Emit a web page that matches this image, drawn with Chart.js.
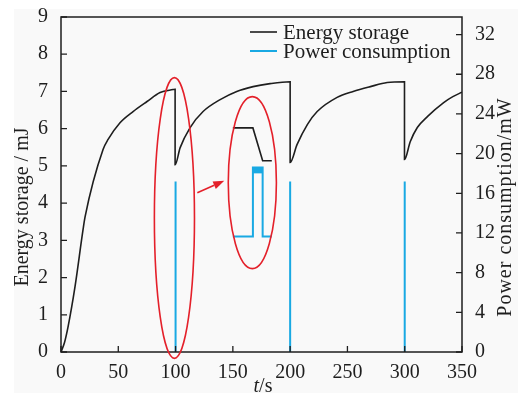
<!DOCTYPE html>
<html lang="en">
<head>
<meta charset="UTF-8">
<title>Energy storage and power consumption</title>
<script src="https://cdn.jsdelivr.net/npm/chart.js@4.4.1/dist/chart.umd.min.js"></script>
<style>
  html, body { margin: 0; padding: 0; background: #fff; }
  #wrap { width: 528px; height: 397px; }
</style>
</head>
<body>
<div id="wrap"><canvas id="energyChart" width="528" height="397"></canvas></div>
<script>
// energy storage curve (t in s, E in mJ)
const energyT = [0, 3, 6.1, 12.2, 19.2, 21.0, 36.7, 41.1, 51.5, 62.9, 75.1, 86.5, 97.8, 99.6,
  99.6, 104, 112.7, 124, 138.9, 153.4, 167.7, 182.5, 200,
  200, 206, 215, 223.6, 241, 255, 270, 284.7, 299.8,
  299.8, 304.8, 311, 320, 334, 342, 350];
const energyE = [0, 0.25, 0.67, 1.75, 3.28, 3.63, 5.44, 5.71, 6.16, 6.46, 6.73, 6.97, 7.05, 7.06,
  5.03, 5.49, 6.03, 6.46, 6.78, 7.0, 7.13, 7.21, 7.26,
  5.09, 5.57, 6.11, 6.46, 6.84, 7.0, 7.13, 7.24, 7.26,
  5.17, 5.65, 6.03, 6.33, 6.70, 6.86, 6.98];

// power consumption spikes (right axis, mW)
const spikeT = [100, 200, 300];
const spikeP = [17.2, 17.2, 17.2];

// zoomed view of one event, drawn on the left axis
const insetEnergyT = [150, 167.5, 176, 184];
const insetEnergyE = [6.02, 6.02, 5.14, 5.14];
const insetPowerT = [150, 167.5, 167.5, 176, 176, 184];
const insetPowerV = [3.1, 3.1, 4.96, 4.96, 3.1, 3.1];
const insetPeakT = [167.5, 176];
const insetPeakV = [4.88, 4.88];

// red highlight ellipses: centre t, centre E, half width (s), half height (mJ)
const ellipseCx = [99, 167];
const ellipseCy = [3.6, 4.55];
const ellipseRx = [17.5, 21];
const ellipseRy = [3.77, 2.31];
// arrow between the two ellipses
const arrowT = [119, 142.5];
const arrowE = [4.28, 4.6];

const xTicks = [0, 50, 100, 150, 200, 250, 300, 350];
const leftTicks = [0, 1, 2, 3, 4, 5, 6, 7, 8, 9];
const rightTicks = [0, 4, 8, 12, 16, 20, 24, 28, 32];

const BLUE = '#19a9e3';
const RED = '#e4202a';
const INK = '#1e1e1e';
const SERIF = '"Liberation Serif", "Times New Roman", serif';

function pts(xs, ys) {
  return xs.map((x, i) => ({ x: x, y: ys[i] }));
}

// each spike is a separate vertical segment, split with nulls
const spikeData = [];
spikeT.forEach((t, i) => {
  spikeData.push({ x: t, y: 0 }, { x: t, y: spikeP[i] }, { x: t + 1, y: null });
});

const bgPlugin = {
  id: 'bg',
  beforeDraw(chart) {
    const ctx = chart.ctx;
    ctx.save();
    ctx.fillStyle = '#fff';
    ctx.fillRect(0, 0, chart.width, chart.height);
    ctx.fillStyle = '#f9f9f9';
    ctx.fillRect(14, 9, 504, 384);
    ctx.restore();
  }
};

const frameTicks = {
  id: 'frameTicks',
  afterDatasetsDraw(chart) {
    const { ctx, chartArea: a, scales } = chart;
    ctx.save();
    ctx.strokeStyle = INK;
    ctx.lineWidth = 1.5;
    ctx.strokeRect(a.left, a.top, a.right - a.left, a.bottom - a.top);
    ctx.lineWidth = 1.3;
    ctx.beginPath();
    xTicks.forEach(v => {
      const px = scales.x.getPixelForValue(v);
      ctx.moveTo(px, a.bottom); ctx.lineTo(px, a.bottom - 6);
    });
    leftTicks.forEach(v => {
      const py = scales.y.getPixelForValue(v);
      ctx.moveTo(a.left, py); ctx.lineTo(a.left + 6, py);
    });
    rightTicks.forEach(v => {
      const py = scales.y2.getPixelForValue(v);
      ctx.moveTo(a.right, py); ctx.lineTo(a.right - 6, py);
    });
    ctx.stroke();
    ctx.restore();
  }
};

const marks = {
  id: 'marks',
  afterDatasetsDraw(chart) {
    const { ctx, scales } = chart;
    const sx = scales.x, sy = scales.y;
    ctx.save();
    ctx.strokeStyle = RED;
    ctx.fillStyle = RED;
    ctx.lineWidth = 1.6;
    ellipseCx.forEach((cx, i) => {
      const px = sx.getPixelForValue(cx);
      const py = sy.getPixelForValue(ellipseCy[i]);
      const rx = sx.getPixelForValue(cx + ellipseRx[i]) - px;
      const ry = py - sy.getPixelForValue(ellipseCy[i] + ellipseRy[i]);
      ctx.beginPath();
      ctx.ellipse(px, py, rx, ry, 0, 0, Math.PI * 2);
      ctx.stroke();
    });
    // arrow
    const x0 = sx.getPixelForValue(arrowT[0]), y0 = sy.getPixelForValue(arrowE[0]);
    const x1 = sx.getPixelForValue(arrowT[1]), y1 = sy.getPixelForValue(arrowE[1]);
    const ang = Math.atan2(y1 - y0, x1 - x0);
    const hl = 11, hw = 4;
    const bx = x1 - hl * Math.cos(ang), by = y1 - hl * Math.sin(ang);
    ctx.beginPath();
    ctx.moveTo(x0, y0); ctx.lineTo(bx, by);
    ctx.stroke();
    ctx.beginPath();
    ctx.moveTo(x1, y1);
    ctx.lineTo(bx + hw * Math.sin(ang), by - hw * Math.cos(ang));
    ctx.lineTo(bx - hw * Math.sin(ang), by + hw * Math.cos(ang));
    ctx.closePath();
    ctx.fill();
    ctx.restore();
  }
};

const legendAndTitles = {
  id: 'legendAndTitles',
  afterDraw(chart) {
    const ctx = chart.ctx;
    const ds = chart.data.datasets;
    ctx.save();
    // legend
    ctx.font = '21px ' + SERIF;
    ctx.textBaseline = 'middle';
    ctx.textAlign = 'left';
    ctx.fillStyle = INK;
    [[ds[0], 32], [ds[1], 51]].forEach(([d, y]) => {
      ctx.strokeStyle = d.borderColor;
      ctx.lineWidth = d.borderWidth;
      ctx.beginPath();
      ctx.moveTo(250, y); ctx.lineTo(277, y);
      ctx.stroke();
      ctx.fillText(d.label, 283, y + 1);
    });

    // left axis title
    ctx.font = '20px ' + SERIF;
    ctx.textBaseline = 'alphabetic';
    ctx.textAlign = 'center';
    ctx.save();
    ctx.translate(28, 207);
    ctx.rotate(-Math.PI / 2);
    ctx.fillText('Energy storage / mJ', 0, 0);
    ctx.restore();

    // right axis title
    ctx.save();
    ctx.translate(511, 207);
    ctx.rotate(-Math.PI / 2);
    ctx.letterSpacing = '1px';
    ctx.fillText('Power consumption/mW', 0, 0);
    ctx.restore();

    // x axis title, italic t
    ctx.textAlign = 'left';
    ctx.font = 'italic 20px ' + SERIF;
    const wt = ctx.measureText('t').width;
    ctx.font = '20px ' + SERIF;
    const ws = ctx.measureText('/s').width;
    const x0 = 263 - (wt + ws) / 2;
    ctx.font = 'italic 20px ' + SERIF;
    ctx.fillText('t', x0, 392);
    ctx.font = '20px ' + SERIF;
    ctx.fillText('/s', x0 + wt, 392);
    ctx.restore();
  }
};

const tickFont = { family: SERIF, size: 20 };

new Chart(document.getElementById('energyChart'), {
  type: 'line',
  data: {
    datasets: [{
      label: 'Energy storage',
      data: pts(energyT, energyE),
      yAxisID: 'y',
      borderColor: INK,
      borderWidth: 1.6,
      cubicInterpolationMode: 'monotone'
    }, {
      label: 'Power consumption',
      data: spikeData,
      yAxisID: 'y2',
      borderColor: BLUE,
      borderWidth: 2
    }, {
      label: 'inset energy',
      data: pts(insetEnergyT, insetEnergyE),
      yAxisID: 'y',
      borderColor: INK,
      borderWidth: 1.6
    }, {
      label: 'inset power',
      data: pts(insetPowerT, insetPowerV),
      yAxisID: 'y',
      borderColor: BLUE,
      borderWidth: 2
    }, {
      label: 'inset peak',
      data: pts(insetPeakT, insetPeakV),
      yAxisID: 'y',
      borderColor: BLUE,
      borderWidth: 6,
      borderCapStyle: 'butt'
    }]
  },
  options: {
    responsive: false,
    animation: false,
    devicePixelRatio: 1,
    elements: {
      point: { radius: 0 },
      line: { tension: 0, fill: false, borderJoinStyle: 'miter' }
    },
    layout: { padding: { top: 17, left: 0, right: 0, bottom: 0 } },
    plugins: {
      legend: { display: false },
      tooltip: { enabled: false },
      title: { display: false }
    },
    scales: {
      x: {
        type: 'linear',
        min: 0,
        max: 350,
        grid: { display: false },
        border: { display: false },
        ticks: { font: tickFont, color: INK, padding: 1, maxRotation: 0 },
        afterBuildTicks: s => { s.ticks = xTicks.map(v => ({ value: v })); },
        afterFit: s => { s.height = 45; }
      },
      y: {
        position: 'left',
        min: 0,
        max: 9,
        grid: { display: false },
        border: { display: false },
        ticks: { font: tickFont, color: INK, padding: 5 },
        afterBuildTicks: s => { s.ticks = leftTicks.map(v => ({ value: v })); },
        afterFit: s => { s.width = 61; }
      },
      y2: {
        position: 'right',
        min: 0,
        max: 33.77,
        grid: { display: false },
        border: { display: false },
        ticks: { font: tickFont, color: INK, padding: 5 },
        afterBuildTicks: s => { s.ticks = rightTicks.map(v => ({ value: v })); },
        afterFit: s => { s.width = 66; }
      }
    }
  },
  plugins: [bgPlugin, frameTicks, marks, legendAndTitles]
});
</script>
</body>
</html>
